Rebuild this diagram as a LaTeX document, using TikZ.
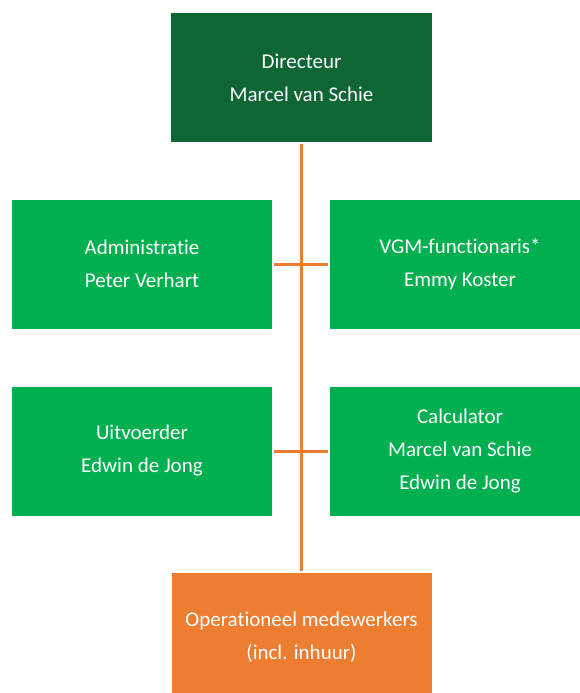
\documentclass[tikz,border=0pt]{standalone}
\usepackage{fontspec}
\setmainfont{Carlito}[Ligatures=NoCommon]
\usepackage{xcolor}
\definecolor{darkgreen}{RGB}{14,102,52}
\definecolor{officegreen}{RGB}{0,176,80}
\definecolor{officeorange}{RGB}{237,125,49}

\begin{document}
\begin{tikzpicture}[x=1pt, y=1pt,
        head/.style={rectangle, minimum width=261pt, minimum height=129pt, align=center, fill=darkgreen, text=white, font=\fontsize{21}{33}\selectfont},
        unit/.style={rectangle, minimum width=260pt, minimum height=129pt, align=center, fill=officegreen, text=white, font=\fontsize{21}{33}\selectfont},
        crew/.style={rectangle, minimum width=260pt, minimum height=128pt, align=center, fill=officeorange, text=white, font=\fontsize{21}{33}\selectfont},
        link/.style={draw=officeorange, line width=3pt, shorten <=2pt, shorten >=2pt}
    ]
        \useasboundingbox (0,0) rectangle (579,-693);

        \node[head] (dir) at (301.5,-77.5) {Directeur\\Marcel van Schie};

        \node[unit] (adm) at (142,-264) {Administratie\\Peter Verhart};
        \node[unit] (vgm) at (460,-264) {VGM-functionaris*\\Emmy Koster};

        \node[unit] (uit) at (142,-451) {Uitvoerder\\Edwin de Jong};
        \node[unit] (calc) at (460,-451) {Calculator\\Marcel van Schie\\Edwin de Jong};

        \node[crew] (oper) at (301.5,-637) {Operationeel medewerkers\\(incl. inhuur)};

        \draw[link] (dir) -- (oper);
        \draw[link] (adm) -- (vgm);
        \draw[link] (uit) -- (calc);
    \end{tikzpicture}
\end{document}
